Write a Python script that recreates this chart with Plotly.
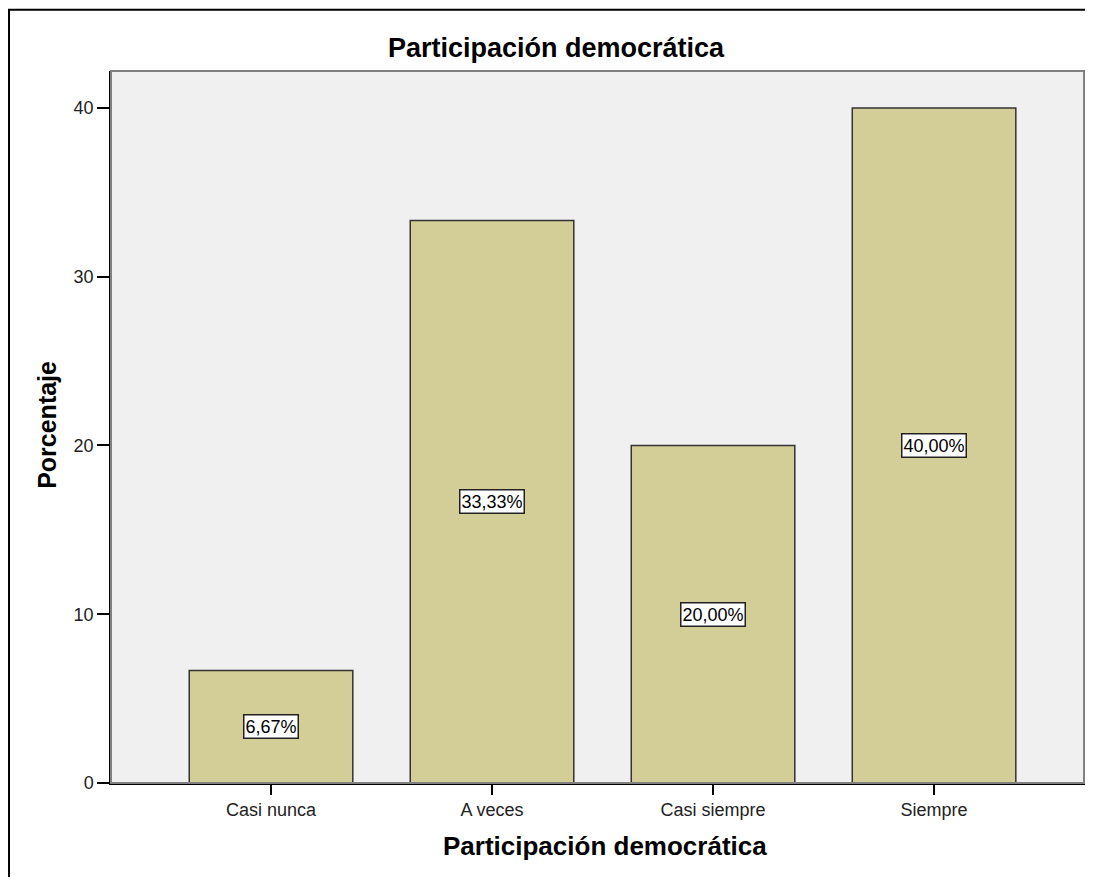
import plotly.graph_objects as go

categories = ["Casi nunca", "A veces", "Casi siempre", "Siempre"]
percentages = [6.67, 33.33, 20.00, 40.00]
labels = ["6,67%", "33,33%", "20,00%", "40,00%"]
y_ticks = [0, 10, 20, 30, 40]

FONT = "Liberation Sans, Arial, sans-serif"

fig = go.Figure()
fig.add_trace(go.Bar(
    x=categories, y=percentages,
    marker=dict(color="#D3CE97", line=dict(color="#333333", width=1.5)),
    width=0.74,
    hoverinfo="x+y",
))

for c, v, t in zip(categories, percentages, labels):
    fig.add_annotation(
        x=c, y=v / 2, text=t, showarrow=False,
        font=dict(family=FONT, size=18, color="black"),
        bgcolor="white", bordercolor="#222222", borderwidth=1.5, borderpad=1,
    )

# axis titles
fig.add_annotation(xref="paper", yref="paper", x=0.5072, y=-0.088,
                   text="<b>Participación democrática</b>", showarrow=False,
                   xanchor="center", yanchor="middle",
                   font=dict(family=FONT, size=26, color="black"))
fig.add_annotation(xref="paper", yref="paper", x=-0.0657, y=0.503,
                   text="<b>Porcentaje</b>", showarrow=False, textangle=-90,
                   xanchor="center", yanchor="middle",
                   font=dict(family=FONT, size=25, color="black"))

# plot-area frame (top/right gray)
fig.add_shape(type="rect", xref="paper", yref="paper", x0=0, x1=0.999, y0=0, y1=1,
              line=dict(color="#808080", width=2), layer="above")
# outer chart border
fig.add_shape(type="rect", xref="paper", yref="paper", x0=-0.1047, x1=1.05, y0=-0.2, y1=1.086,
              line=dict(color="black", width=2))

fig.update_layout(
    width=1077, height=869,
    margin=dict(l=103, r=0, t=63, b=94),
    paper_bgcolor="white",
    plot_bgcolor="#F0F0F0",
    showlegend=False,
    title=dict(text="<b>Participación democrática</b>", x=0.5088, xanchor="center",
               y=0.954, yanchor="middle", yref="container",
               font=dict(family=FONT, size=27, color="black")),
    font=dict(family=FONT, size=18, color="black"),
    xaxis=dict(
        range=[-0.724, 3.683],
        showgrid=False, zeroline=False,
        showline=True, linecolor="black", linewidth=1.5,
        ticks="outside", ticklen=10, tickcolor="black", tickwidth=1.5,
        tickfont=dict(family=FONT, size=18, color="#222222"),
    ),
    yaxis=dict(
        range=[0, 42.19],
        tickvals=y_ticks,
        showgrid=False, zeroline=False,
        showline=True, linecolor="black", linewidth=1.5,
        ticks="outside", ticklen=12, tickcolor="black", tickwidth=1.5,
        tickfont=dict(family=FONT, size=18, color="#222222"),
    ),
)

fig.write_html("out.html")
